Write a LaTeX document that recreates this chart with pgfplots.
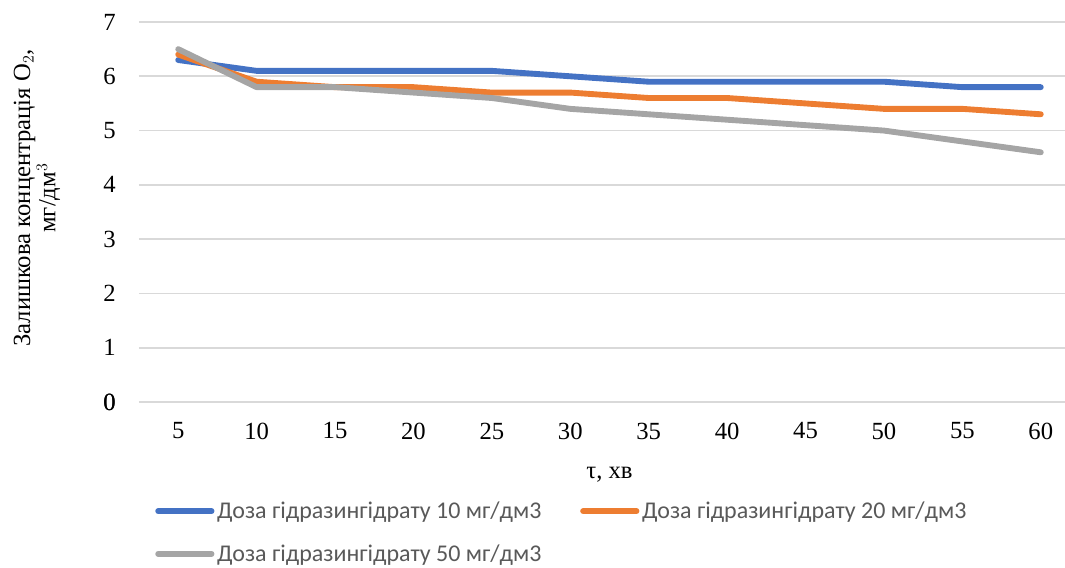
\documentclass[border=0pt]{standalone}
\usepackage{pgfplots}
\pgfplotsset{compat=1.18}
\usepackage{fontspec}
\setmainfont{Liberation Serif}
\newfontfamily\legfont{Carlito}
\definecolor{cblue}{HTML}{4472C4}
\definecolor{corange}{HTML}{ED7D31}
\definecolor{cgray}{HTML}{A5A5A5}
\definecolor{cgrid}{HTML}{D9D9D9}
\definecolor{ctext}{HTML}{595959}
\begin{document}
\begin{tikzpicture}
\useasboundingbox (-104.25pt,-124.5pt) rectangle (694.5pt,301.5pt);
\begin{axis}[
  scale only axis,
  width=705.75pt, height=285pt,
  xmin=2.5, xmax=62.5, ymin=0, ymax=7,
  xtick={5,10,...,60}, ytick={0,1,...,7},
  axis line style={draw=none},
  axis x line*=bottom,
  major tick length=0pt,
  ymajorgrids, grid style={cgrid, line width=1.2pt},
  extra y ticks={0}, extra y tick style={grid style={cgrid,line width=1.2pt}},
  tick label style={font=\fontsize{18.5}{22}\selectfont},
  /pgf/number format/assume math mode=true,
  yticklabel style={xshift=-14pt},
  xticklabel style={yshift=-12pt},
  xlabel={τ, хв},
  xlabel style={font=\fontsize{18.5}{22}\selectfont, yshift=-14pt},
  ylabel={Залишкова концентрація O$_2$,\\мг/дм$^3$},
  ylabel style={font=\fontsize{18.5}{19}\selectfont, align=center,
    at={(axis description cs:0,0.5)}, anchor=center, xshift=10.5pt, yshift=76.5pt},
  clip=false,
  legend columns=2,
  legend style={at={(0.017,-0.255)}, anchor=north west, draw=none, fill=none,
    font=\legfont\fontsize{18}{21}\selectfont, text=ctext,
    /tikz/every even column/.append style={column sep=27pt},
    row sep=14pt, inner sep=0pt},
  legend cell align=left,
  legend image code/.code={\draw[#1,line cap=round] (0pt,0pt) -- (40pt,0pt);},
  every axis plot/.append style={line width=4.4pt, line join=round, line cap=round},
]
\addplot[cblue] coordinates {(5,6.3)(10,6.1)(15,6.1)(20,6.1)(25,6.1)(30,6.0)(35,5.9)(40,5.9)(45,5.9)(50,5.9)(55,5.8)(60,5.8)};
\addlegendentry{Доза гідразингідрату 10 мг/дм3}
\addplot[corange] coordinates {(5,6.4)(10,5.9)(15,5.8)(20,5.8)(25,5.7)(30,5.7)(35,5.6)(40,5.6)(45,5.5)(50,5.4)(55,5.4)(60,5.3)};
\addlegendentry{Доза гідразингідрату 20 мг/дм3}
\addplot[cgray] coordinates {(5,6.5)(10,5.8)(15,5.8)(20,5.7)(25,5.6)(30,5.4)(35,5.3)(40,5.2)(45,5.1)(50,5.0)(55,4.8)(60,4.6)};
\addlegendentry{Доза гідразингідрату 50 мг/дм3}
\end{axis}
\end{tikzpicture}
\end{document}
